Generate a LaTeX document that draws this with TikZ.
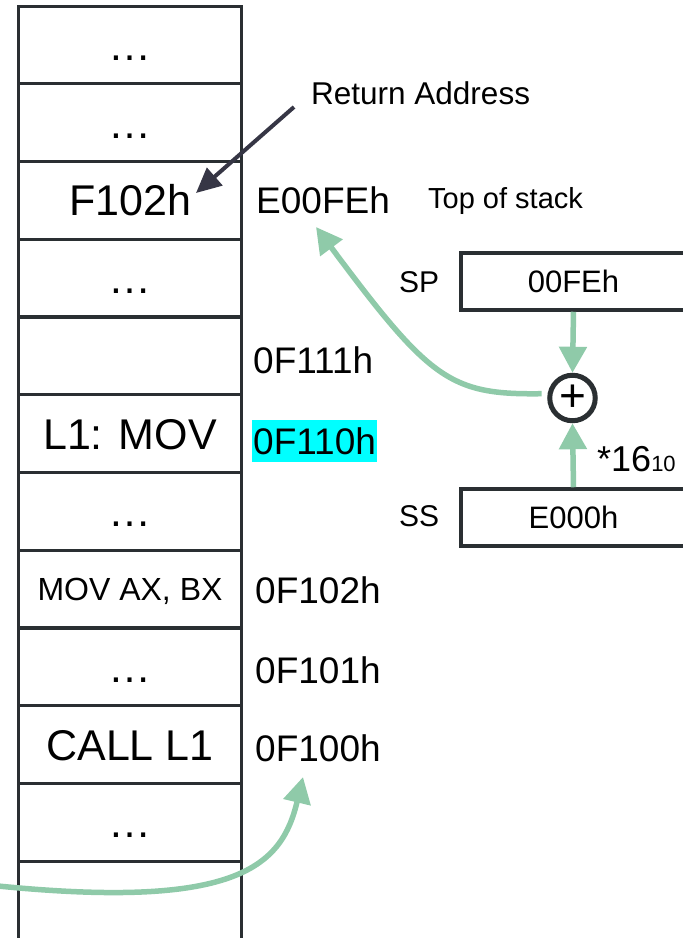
\documentclass[tikz,border=0pt]{standalone}
\usepackage{fontspec}
\setmainfont{Liberation Sans}
\usetikzlibrary{arrows.meta}
\definecolor{boxc}{HTML}{2A2F32}
\definecolor{grn}{HTML}{8FCAA9}
\definecolor{arrc}{HTML}{363645}
\definecolor{hl}{HTML}{00FFFF}
\begin{document}
\begin{tikzpicture}[x=1pt,y=-1pt,
  cell/.style={draw=boxc, line width=3pt, minimum width=223pt, minimum height=77.75pt,
    inner sep=0pt, text height=30.8pt, text depth=0pt, font=\fontsize{43}{50}\selectfont},
  addr/.style={anchor=west, inner sep=0pt, text height=26.5pt, text depth=0pt,
    font=\fontsize{37}{44}\selectfont},
  reg/.style={draw=boxc, line width=3.5pt, minimum width=225pt, minimum height=57pt,
    inner sep=0pt, font=\fontsize{31}{36}\selectfont},
  lbl/.style={anchor=west, inner sep=0pt, font=\fontsize{30}{36}\selectfont},
  garrow/.style={draw=grn, line width=5.5pt, -{Triangle[length=26pt,width=27pt]}},
]
\useasboundingbox (0,0) rectangle (683,938);
\clip (0,0) rectangle (683,938);

% memory column
\node[cell] (c0) at (130,44.9) {…};
\node[cell] (c1) at (130,122.6) {…};
\node[cell] (c2) at (130,200.4) {F102h};
\node[cell] (c3) at (130,278.1) {…};
\node[cell] (c4) at (130,355.9) {};
\node[cell] (c5) at (130,433.6) {L1: MOV};
\node[cell] (c6) at (130,511.4) {…};
\node[cell, text height=23pt, font=\fontsize{32}{38}\selectfont] (c7) at (130,589.1) {MOV AX, BX};
\node[cell] (c8) at (130,666.9) {…};
\node[cell] (c9) at (130,744.6) {CALL L1};
\node[cell] (c10) at (130,822.4) {…};
\node[cell, minimum height=110pt] (c11) at (130,916.5) {};

% addresses
\node[addr] (aE) at (256,200) {E00FEh};
\node[addr] (a111) at (253,360) {0F111h};
\node[addr, fill=hl, inner xsep=1pt, inner ysep=7.75pt] (a110) at (252,441) {0F110h};
\node[addr] (a102) at (255,590) {0F102h};
\node[addr] (a101) at (255,670) {0F101h};
\node[addr] (a100) at (255,748) {0F100h};

\node[anchor=west, inner sep=0pt, text height=20.8pt, text depth=0pt,
  font=\fontsize{29}{34}\selectfont] (tos) at (428,198) {Top of stack};
\node[anchor=west, inner sep=0pt, text height=22.5pt, text depth=0pt,
  font=\fontsize{31.5}{36}\selectfont] (ra) at (311,93) {Return Address};

% registers
\node[reg] (sp) at (573.5,281.5) {00FEh};
\node[reg] (ss) at (573.5,517.5) {E000h};
\node[lbl, text height=21.5pt, text depth=0pt] (spl) at (399,282) {SP};
\node[lbl, text height=21.5pt, text depth=0pt] (ssl) at (399,516) {SS};

% adder
\node[circle, draw=boxc, line width=5pt, minimum size=45.5pt, inner sep=0pt,
  font=\fontsize{46}{50}\selectfont] (pl) at (572.5,398) {+};

\node[anchor=base west, inner sep=0pt, font=\fontsize{36}{40}\selectfont] (mul) at (597,471)
  {*16{\fontsize{22}{24}\selectfont 10}};

% connectors
\draw[garrow] (sp.south) -- (pl.north);
\draw[garrow] (ss.north) -- (pl.south);
\coordinate (tipE) at (316,227);
\draw[garrow, shorten <=6pt] (pl.170) .. controls (450,395) and (430,380) .. (tipE);

\coordinate (leftin) at (-2,886);
\coordinate (tipC) at (303,777);
\draw[garrow] (leftin) .. controls (240,910) and (282,865) .. (tipC);

\coordinate (rastart) at (294,107);
\coordinate (ratip) at (196,193);
\draw[draw=arrc, line width=4pt, -{Triangle[length=25pt,width=23pt]}] (rastart) -- (ratip);
\end{tikzpicture}
\end{document}
